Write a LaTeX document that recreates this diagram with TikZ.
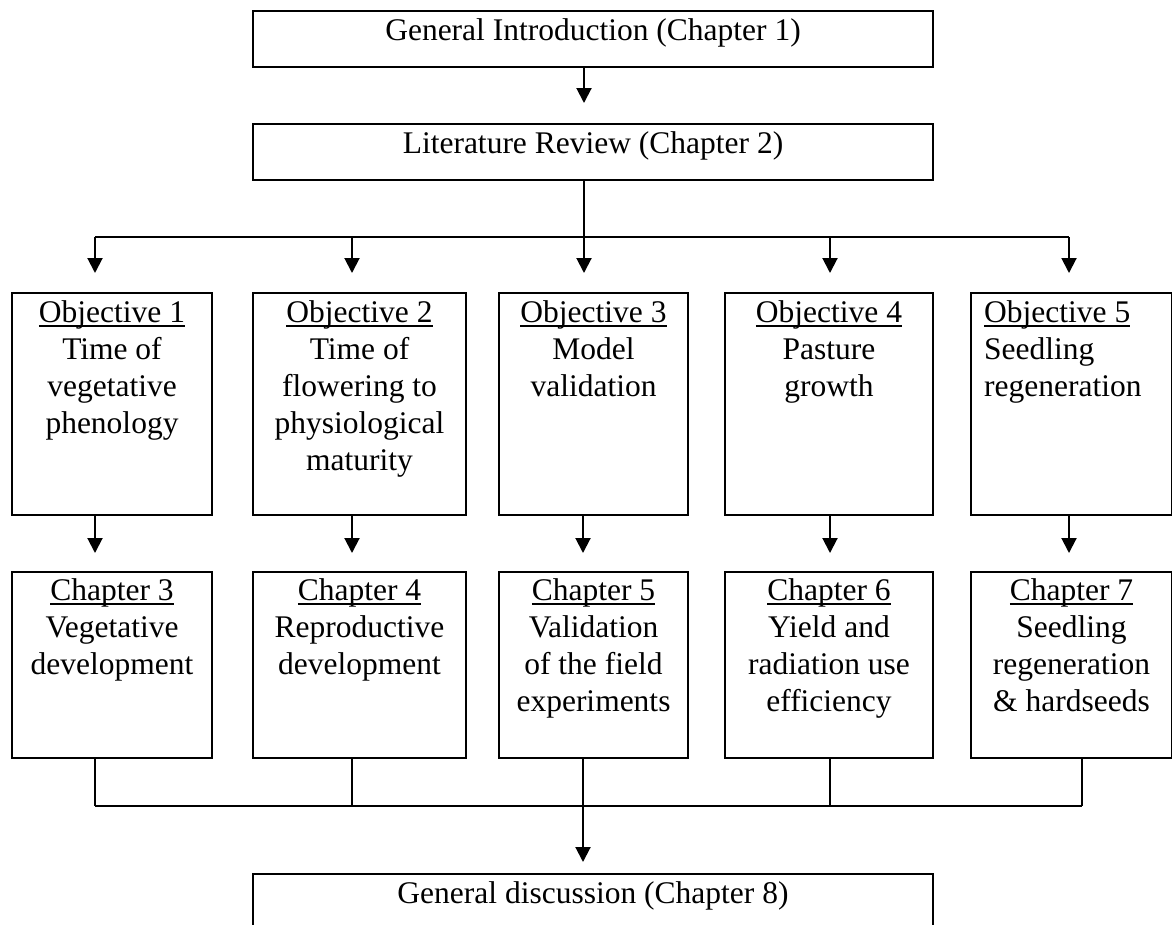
\documentclass[tikz,border=0pt]{standalone}
\usepackage{fontspec}
\setmainfont{Liberation Serif}
\usetikzlibrary{arrows.meta}
\newcommand{\ulin}[1]{{\setbox0\hbox{#1}\rlap{\rule[-4.5pt]{\wd0}{1.6pt}}\box0}}
\begin{document}
\begin{tikzpicture}[x=1pt,y=-1pt,
  box/.style={draw, line width=2pt, anchor=north west, inner sep=0pt},
  txt/.style={anchor=north, inner sep=0pt, align=center, font=\fontsize{31.5}{37}\selectfont},
  txtl/.style={anchor=north west, inner sep=0pt, align=left, font=\fontsize{31.5}{37}\selectfont},
  arr/.style={line width=2pt, -{Triangle[width=15pt,length=15pt]}},
  ln/.style={line width=2pt},
  thinln/.style={line width=1.3pt}]
\useasboundingbox (0,0) rectangle (1172,924);
\clip (0,0) rectangle (1172,924);

% top boxes
\node[box, minimum width=680pt, minimum height=56pt] (intro) at (252,10) {};
\node[txt, yshift=-8pt] (introT) at (intro.north) {General Introduction (Chapter 1)};
\node[box, minimum width=680pt, minimum height=56pt] (lit) at (252,123) {};
\node[txt, yshift=-8pt] (litT) at (lit.north) {Literature Review (Chapter 2)};

% objective boxes
\node[box, minimum width=200pt, minimum height=222pt] (o1) at (11,292) {};
\node[box, minimum width=213pt, minimum height=222pt] (o2) at (252,292) {};
\node[box, minimum width=189pt, minimum height=222pt] (o3) at (498,292) {};
\node[box, minimum width=208pt, minimum height=222pt] (o4) at (724,292) {};
\node[box, minimum width=201pt, minimum height=222pt] (o5) at (970,292) {};
\node[txt, yshift=-8.5pt] (o1T) at (o1.north) {\ulin{Objective 1}\\Time of\\vegetative\\phenology};
\node[txt, yshift=-8.5pt] (o2T) at (o2.north) {\ulin{Objective 2}\\Time of\\flowering to\\physiological\\maturity};
\node[txt, yshift=-8.5pt] (o3T) at (o3.north) {\ulin{Objective 3}\\Model\\validation};
\node[txt, yshift=-8.5pt] (o4T) at (o4.north) {\ulin{Objective 4}\\Pasture\\growth};
\node[txtl, yshift=-8.5pt, xshift=14pt] (o5T) at (o5.north west) {\ulin{Objective 5}\\Seedling\\regeneration};

% chapter boxes
\node[box, minimum width=200pt, minimum height=186pt] (c1) at (11,571) {};
\node[box, minimum width=213pt, minimum height=186pt] (c2) at (252,571) {};
\node[box, minimum width=189pt, minimum height=186pt] (c3) at (498,571) {};
\node[box, minimum width=208pt, minimum height=186pt] (c4) at (724,571) {};
\node[box, minimum width=201pt, minimum height=186pt] (c5) at (970,571) {};
\node[txt, yshift=-7.5pt] (c1T) at (c1.north) {\ulin{Chapter 3}\\Vegetative\\development};
\node[txt, yshift=-7.5pt] (c2T) at (c2.north) {\ulin{Chapter 4}\\Reproductive\\development};
\node[txt, yshift=-7.5pt] (c3T) at (c3.north) {\ulin{Chapter 5}\\Validation\\of the field\\experiments};
\node[txt, yshift=-7.5pt] (c4T) at (c4.north) {\ulin{Chapter 6}\\Yield and\\radiation use\\efficiency};
\node[txt, yshift=-7.5pt] (c5T) at (c5.north) {\ulin{Chapter 7}\\Seedling\\regeneration\\\&~hardseeds};

% bottom box
\node[box, minimum width=680pt, minimum height=56pt] (disc) at (252,873) {};
\node[txt, yshift=-8pt] (discT) at (disc.north) {General discussion (Chapter 8)};

% junction coordinates
\coordinate (b1) at (95,237);
\coordinate (b2) at (352,237);
\coordinate (b3) at (584,237);
\coordinate (b4) at (830,237);
\coordinate (b5) at (1069,237);
\coordinate (m1) at (95,0);
\coordinate (m2) at (352,0);
\coordinate (m3) at (583,0);
\coordinate (m4) at (830,0);
\coordinate (m5) at (1069,0);
\coordinate (d1) at (95,806);
\coordinate (d2) at (352,806);
\coordinate (d3) at (583,806);
\coordinate (d4) at (830,806);
\coordinate (d5) at (1082,806);

% connectors
\draw[arr, shorten >=20pt] (intro.south -| b3) -- (lit.north -| b3);
\draw[ln] (lit.south -| b3) -- (b3);
\draw[ln] (b1) -- (b5);
\foreach \i in {1,...,5} {
  \draw[arr, shorten >=19pt] (b\i) -- (o\i.north -| b\i);
  \draw[arr, shorten >=18pt] (o\i.south -| m\i) -- (c\i.north -| m\i);
  \draw[thinln] (c\i.south -| d\i) -- (d\i);
}
\draw[ln] (d1) -- (d5);
\draw[arr, shorten >=11pt] (d3) -- (disc.north -| d3);
\end{tikzpicture}
\end{document}
